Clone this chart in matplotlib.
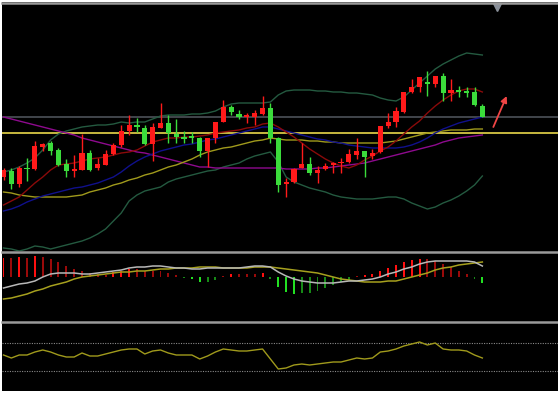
import matplotlib
matplotlib.use("Agg")
import matplotlib.pyplot as plt
import numpy as np
from matplotlib.lines import Line2D

# ---- candles (price) ----
opens = [12.3, 12.9, 11.6, 13.2, 13.1, 15.3, 15.7, 15.0, 13.6, 12.9,
         13.0, 14.7, 13.2, 13.5, 14.6, 15.5, 16.9, 17.5, 17.2, 15.6,
         17.2, 17.7, 16.6, 16.3, 16.4, 16.2, 14.9, 16.2, 17.8, 19.3,
         18.6, 18.3, 18.3, 18.6, 19.2, 16.2, 11.6, 11.8, 13.2, 13.6,
         12.7, 13.1, 13.5, 13.7, 13.8, 14.5, 14.9, 14.4, 14.8, 17.4,
         17.8, 18.8, 20.8, 21.3, 21.8, 21.6, 22.4, 20.7, 21.0, 20.9,
         20.8, 19.4]
highs = [13.2, 13.2, 13.4, 14.2, 15.9, 15.7, 15.9, 15.2, 14.1, 14.5,
         16.6, 15.0, 14.2, 15.0, 15.7, 17.5, 18.5, 18.2, 17.5, 17.7,
         19.7, 18.5, 18.1, 16.9, 16.8, 16.3, 16.2, 17.8, 20.0, 19.5,
         19.0, 18.7, 19.0, 20.4, 19.7, 16.3, 12.2, 13.2, 15.7, 14.3,
         13.4, 13.7, 13.8, 14.2, 15.1, 16.2, 14.9, 15.1, 17.4, 18.7,
         19.3, 20.8, 22.1, 22.3, 22.9, 22.4, 22.7, 22.1, 21.4, 21.3,
         21.3, 19.6]
lows = [12.0, 11.1, 11.3, 11.9, 13.0, 14.9, 14.5, 13.4, 12.3, 12.3,
        13.0, 12.9, 13.0, 13.5, 14.5, 15.3, 16.5, 16.8, 15.5, 13.9,
        17.2, 15.7, 15.7, 15.7, 15.7, 14.3, 13.3, 15.7, 17.8, 18.5,
        18.1, 17.7, 17.5, 18.5, 15.7, 10.8, 10.3, 11.7, 13.2, 12.5,
        11.7, 13.0, 12.7, 12.7, 13.7, 14.1, 12.3, 14.1, 14.7, 17.2,
        17.3, 18.7, 20.7, 20.8, 20.4, 21.3, 19.9, 19.9, 20.3, 20.3,
        19.4, 18.3]
closes = [13.0, 11.6, 13.2, 13.1, 15.4, 15.6, 14.9, 13.5, 12.9, 13.1,
          14.7, 13.0, 13.6, 14.6, 15.5, 16.9, 17.5, 17.3, 15.6, 17.3,
          17.7, 16.7, 16.3, 16.1, 16.2, 14.9, 16.2, 17.8, 19.3, 18.8,
          18.3, 18.5, 18.7, 19.2, 16.2, 11.5, 11.8, 13.1, 13.6, 12.7,
          13.0, 13.4, 13.7, 13.8, 14.6, 14.9, 14.3, 14.7, 17.4, 17.8,
          18.9, 20.8, 21.3, 22.3, 21.6, 22.4, 20.7, 21.0, 20.8, 20.7,
          19.5, 18.3]

# ---- overlays on price panel ----
boll_upper = [12.8, 13.0, 13.3, 13.7, 14.2, 15.0, 16.0, 16.6, 16.9, 17.1,
              17.3, 17.4, 17.5, 17.5, 17.6, 17.8, 17.7, 17.8, 17.8, 18.1,
              18.4, 18.5, 18.5, 18.5, 18.6, 18.6, 18.7, 18.9, 19.3, 19.6,
              19.7, 19.7, 19.7, 19.7, 19.8, 20.5, 20.9, 21.0, 21.0, 21.0,
              20.9, 20.9, 20.8, 20.8, 20.7, 20.7, 20.6, 20.5, 20.2, 20.0,
              19.9, 20.3, 21.0, 21.7, 22.4, 23.1, 23.6, 24.0, 24.4, 24.7,
              24.6, 24.5]
boll_lower = [5.2, 5.1, 4.9, 5.1, 5.4, 5.3, 5.1, 5.3, 5.5, 5.7,
              5.9, 6.2, 6.6, 7.1, 7.9, 8.7, 9.9, 10.5, 10.9, 11.1,
              11.3, 11.8, 12.1, 12.3, 12.5, 12.7, 12.9, 13.0, 13.3, 13.5,
              13.7, 14.1, 14.4, 14.6, 14.8, 13.8, 12.3, 11.8, 11.5, 11.2,
              11.0, 10.8, 10.5, 10.3, 10.2, 10.1, 10.1, 10.1, 10.2, 10.3,
              10.3, 10.1, 9.7, 9.4, 9.1, 9.3, 9.7, 10.0, 10.4, 10.9,
              11.5, 12.4]
ma_red = [9.5, 9.9, 10.3, 11.0, 11.7, 12.3, 13.0, 13.5, 13.6, 13.7,
          13.9, 14.1, 14.2, 14.3, 14.5, 14.7, 14.8, 15.0, 15.4, 15.8,
          16.0, 16.2, 16.2, 16.3, 16.3, 16.4, 16.5, 16.7, 16.8, 16.9,
          17.0, 17.2, 17.3, 17.6, 17.7, 17.3, 16.8, 16.3, 15.7, 15.1,
          14.6, 14.1, 13.7, 13.4, 13.2, 13.5, 14.0, 14.4, 14.9, 15.3,
          15.9, 16.6, 17.3, 17.9, 18.7, 19.4, 20.0, 20.5, 20.9, 21.1,
          21.1, 20.8]
ma_blue = [8.9, 9.1, 9.4, 9.8, 10.1, 10.4, 10.6, 10.8, 11.0, 11.2,
           11.3, 11.5, 11.7, 12.0, 12.3, 12.8, 13.4, 13.9, 14.3, 14.6,
           14.9, 15.1, 15.3, 15.5, 15.6, 15.8, 16.0, 16.1, 16.3, 16.5,
           16.7, 16.9, 17.1, 17.3, 17.3, 17.1, 16.9, 16.7, 16.5, 16.3,
           16.1, 16.0, 15.8, 15.7, 15.5, 15.4, 15.3, 15.2, 15.2, 15.2,
           15.2, 15.3, 15.5, 15.8, 16.2, 16.7, 17.1, 17.4, 17.7, 17.9,
           18.1, 18.3]
ma_olive = [10.8, 10.7, 10.5, 10.4, 10.3, 10.3, 10.3, 10.3, 10.3, 10.4,
            10.5, 10.8, 11.0, 11.2, 11.5, 11.7, 12.0, 12.2, 12.5, 12.7,
            13.0, 13.3, 13.5, 13.8, 14.1, 14.5, 14.8, 15.0, 15.2, 15.3,
            15.5, 15.7, 15.9, 16.0, 16.2, 16.1, 16.0, 16.0, 16.0, 15.9,
            15.9, 15.8, 15.8, 15.7, 15.7, 15.7, 15.7, 15.7, 15.7, 15.8,
            15.9, 16.1, 16.3, 16.5, 16.7, 16.8, 16.9, 17.0, 17.0, 17.0,
            17.1, 17.1]
ma_purple = [18.3, 18.1, 17.9, 17.7, 17.5, 17.3, 17.1, 16.9, 16.7, 16.5,
             16.2, 16.0, 15.8, 15.6, 15.4, 15.2, 15.0, 14.8, 14.7, 14.5,
             14.3, 14.1, 13.9, 13.7, 13.5, 13.3, 13.3, 13.2, 13.2, 13.2,
             13.2, 13.2, 13.2, 13.2, 13.2, 13.2, 13.1, 13.1, 13.1, 13.1,
             13.2, 13.2, 13.3, 13.4, 13.5, 13.6, 13.7, 13.9, 14.1, 14.3,
             14.5, 14.7, 14.9, 15.1, 15.3, 15.5, 15.8, 16.0, 16.2, 16.3,
             16.4, 16.5]
level_gray = 18.3
level_yellow = 16.7
arrow_from = (62.4, 17.3)
arrow_to = (64.1, 20.4)
marker_x = 62.9

# ---- MACD ----
dif = [-0.11, -0.09, -0.07, -0.06, -0.04, 0.00, 0.03, 0.04, 0.04, 0.04,
       0.03, 0.03, 0.04, 0.05, 0.06, 0.07, 0.09, 0.10, 0.10, 0.11,
       0.11, 0.10, 0.09, 0.09, 0.08, 0.08, 0.09, 0.09, 0.09, 0.09,
       0.09, 0.10, 0.11, 0.11, 0.10, 0.05, 0.01, -0.02, -0.04, -0.05,
       -0.06, -0.06, -0.06, -0.05, -0.04, -0.04, -0.03, -0.02, 0.00, 0.03,
       0.05, 0.08, 0.10, 0.13, 0.15, 0.16, 0.16, 0.16, 0.16, 0.16,
       0.15, 0.11]
dea = [-0.22, -0.21, -0.19, -0.17, -0.14, -0.12, -0.09, -0.07, -0.05, -0.02,
       0.00, 0.01, 0.02, 0.03, 0.04, 0.05, 0.05, 0.06, 0.06, 0.07,
       0.08, 0.08, 0.09, 0.09, 0.09, 0.10, 0.10, 0.10, 0.09, 0.09,
       0.09, 0.09, 0.10, 0.10, 0.10, 0.09, 0.08, 0.07, 0.06, 0.05,
       0.04, 0.02, 0.00, -0.02, -0.03, -0.04, -0.05, -0.05, -0.05, -0.04,
       -0.04, -0.02, 0.00, 0.02, 0.04, 0.07, 0.09, 0.10, 0.12, 0.13,
       0.14, 0.15]
macd_hist = [0.19, 0.19, 0.20, 0.19, 0.21, 0.20, 0.18, 0.15, 0.11, 0.08,
             0.06, 0.04, 0.03, 0.02, 0.05, 0.06, 0.08, 0.08, 0.06, 0.06,
             0.06, 0.04, 0.02, -0.01, -0.02, -0.05, -0.05, -0.03, 0.01, 0.03,
             0.03, 0.03, 0.03, 0.04, -0.02, -0.10, -0.15, -0.17, -0.16, -0.16,
             -0.14, -0.11, -0.08, -0.05, -0.03, 0.01, 0.02, 0.03, 0.06, 0.09,
             0.12, 0.15, 0.17, 0.18, 0.18, 0.16, 0.13, 0.10, 0.06, 0.03,
             -0.02, -0.06]

# ---- oscillator ----
osc = [35, 32, 35, 35, 38, 40, 38, 35, 33, 33,
       37, 34, 34, 36, 38, 40, 41, 41, 36, 39,
       40, 37, 35, 35, 35, 31, 34, 38, 41, 40,
       39, 39, 40, 41, 31, 21, 22, 25, 26, 25,
       26, 27, 28, 28, 30, 32, 31, 32, 38, 39,
       41, 44, 46, 48, 45, 47, 41, 40, 40, 39,
       35, 32]
osc_levels = [47, 19]

W, H = 558, 393
fig = plt.figure(figsize=(W / 100, H / 100), dpi=100, facecolor="white")


def frac(top, bottom):
    return (H - bottom) / H, (bottom - top) / H


x0, x1 = 2, 558
left, width = x0 / W, (x1 - x0) / W
step, first = 7.85, 3.5
xlim = ((x0 - first) / step, (x1 - first) / step)

bg = fig.add_axes([left, 2 / H, width, 389 / H])
bg.set_facecolor("black")
bg.set_xticks([])
bg.set_yticks([])
for s in bg.spines.values():
    s.set_visible(False)

b, h = frac(3.5, 251)
ax = fig.add_axes([left, b, width, h])
b, h = frac(252.5, 320.5)
ax2 = fig.add_axes([left, b, width, h])
b, h = frac(322.5, 390)
ax3 = fig.add_axes([left, b, width, h])
for a in (ax, ax2, ax3):
    a.set_facecolor("none")
    a.set_xlim(*xlim)
    a.set_xticks([])
    a.set_yticks([])
    for s in a.spines.values():
        s.set_visible(False)

x = np.arange(len(closes))
o = np.array(opens)
c = np.array(closes)
up = c >= o
red, green = "#ff1a1a", "#3bdc3b"

# price panel
ax.set_ylim(4.9, 29.65)
ax.axhline(level_gray, color="#4c5158", lw=1.2)
ax.axhline(level_yellow, color="#e8d84a", lw=1.2)
ax.plot(x, boll_upper, color="#245a40", lw=1)
ax.plot(x, boll_lower, color="#245a40", lw=1)
ax.plot(x, ma_purple, color="#8e0a8e", lw=1)
ax.plot(x, ma_olive, color="#a09a1c", lw=1)
ax.plot(x, ma_blue, color="#10108c", lw=1)
ax.plot(x, ma_red, color="#8a0a0a", lw=1)

cols = np.where(up, red, green)
ax.vlines(x, lows, highs, colors=cols, lw=1, zorder=3)
body = np.maximum(np.abs(c - o), 0.12)
ax.bar(x, body, bottom=np.minimum(o, c), width=0.65, color=cols, zorder=4)

ax.annotate("", xy=arrow_to, xytext=arrow_from,
            arrowprops=dict(arrowstyle="-|>", color="#f04545", lw=1.3,
                            mutation_scale=9, shrinkA=0, shrinkB=0))
ax.plot([marker_x], [29.3], marker="v", color="#8a909a", ms=6, clip_on=False)

# MACD panel
ax2.set_ylim(-0.435, 0.245)
hist = np.array(macd_hist)
prev = np.concatenate([[0.0], np.abs(hist[:-1])])
grow = np.abs(hist) > prev
hcol = []
for v, g in zip(hist, grow):
    if v >= 0:
        hcol.append("#ff1010" if g else "#9a0a0a")
    else:
        hcol.append("#22e022" if g else "#168a16")
ax2.bar(x, hist, width=0.25, color=hcol)
ax2.plot(x, dea, color="#a6a01e", lw=1.1)
ax2.plot(x, dif, color="#b8b8b8", lw=1.1)

# oscillator panel
ax3.set_ylim(0, 67.5)
for lv in osc_levels:
    ax3.axhline(lv, color="#8a8a8a", lw=0.8, ls=(0, (1, 1.2)))
ax3.plot(x, osc, color="#a09a1c", lw=1)

# frame / separators
for yy in (2.5, 251.6, 321.5):
    fig.add_artist(Line2D([x0 / W, 1], [(H - yy) / H] * 2, color="#9a9a9a",
                          lw=1.8, transform=fig.transFigure))

fig.savefig("out.png", dpi=100, facecolor="white")
